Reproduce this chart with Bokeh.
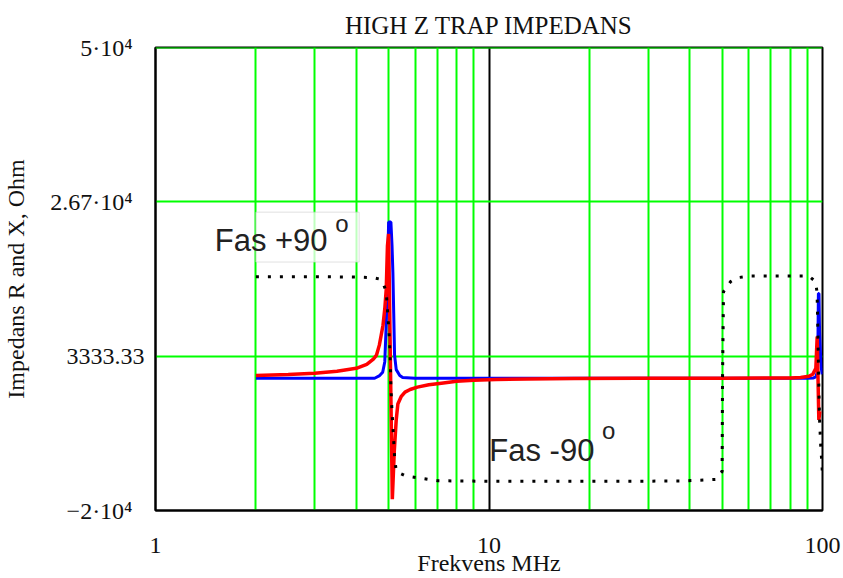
from bokeh.plotting import figure
from bokeh.models import Range1d, FixedTicker, Label, BoxAnnotation, Span
from bokeh.embed import file_html
from bokeh.resources import INLINE

# ---------------- data ----------------
x_ticks = [1, 10, 100]
x_tick_labels = ["1", "10", "100"]
x_minor = [2, 3, 4, 5, 6, 7, 8, 9, 20, 30, 40, 50, 60, 70, 80, 90]

y_ticks = [-20000, 3333.33, 26666.67, 50000]
y_tick_labels = ["\u22122\u00b710\u2074\u2007", "3333.33", "2.67\u00b710\u2074\u2007", "5\u00b710\u2074\u2007"]

# Blue: resistance R
f_R = [2.0, 3.0, 4.0, 4.54, 4.7, 4.8, 4.87, 4.92, 4.97, 5.0, 5.08, 5.12, 5.15, 5.18, 5.21,
       5.27, 5.4, 5.51, 6.0, 10.0, 30.0, 60.0, 90.0, 94.0, 95.5, 96.3, 96.8, 97.2, 97.6,
       98.0, 98.6, 99.2, 99.8]
R = [0, 0, 0, 0, 400, 900, 2500, 8300, 17000, 23600, 23600, 20000, 16000, 9800, 3500,
     1300, 400, 100, 0, 0, 0, 0, 0, 50, 200, 800, 3000, 12800, 12800,
     7000, 3800, 1500, 600]

# Red: reactance X
f_X = [2.0, 2.5, 3.0, 3.5, 4.0, 4.3, 4.5, 4.6, 4.69, 4.75, 4.81, 4.87, 4.92, 4.96, 5.0,
       5.13, 5.2, 5.27, 5.33, 5.45, 5.6, 5.8, 6.1, 6.6, 7.2, 8.0, 9.0, 10.5, 13.0, 18.0,
       28.0, 50.0, 80.0, 86.0, 91.0, 93.5, 95.5, 96.4, 97.5, 98.2]
X = [400, 550, 750, 1050, 1500, 2100, 2900, 3500, 5000, 6500, 8000, 10500, 13500, 20000, 21800,
     -18300, -11000, -6300, -3900, -2800, -2100, -1700, -1350, -1000, -750, -450, -300, -200, -120, -60,
     0, 0, 50, 100, 300, 600, 1500, 6300, -6300, -5000]

# Black dotted: phase (scaled)
f_ph = [2.0, 3.0, 4.0, 4.5, 4.69, 4.8, 4.92, 4.97, 5.03, 5.06, 5.08, 5.11, 5.15, 5.21, 5.27,
        5.64, 7.0, 10.0, 20.0, 37.6, 47.9, 50.0, 50.15, 50.5, 53.0, 55.5, 60.9, 70.0, 85.0,
        91.0, 95.3, 96.3, 96.8, 97.2, 97.6, 98.0, 98.8, 99.4, 99.9]
ph = [15350, 15350, 15300, 15200, 15000, 14500, 13100, 9800, 5800, 2300, -1250, -4300, -7300, -11800, -14100,
      -14800, -15500, -15580, -15580, -15550, -15300, -14100, 0, 13100, 14600, 15200, 15450, 15450, 15450,
      15450, 14600, 13000, 8000, 2500, -2500, -6300, -10300, -12300, -14300]

title_text = "HIGH Z TRAP IMPEDANS"
x_label = "Frekvens MHz"
y_label = "Impedans R and X, Ohm"

GREEN = "#00ff00"
SERIF = "Liberation Serif"
SANS = "Liberation Sans"

p = figure(width=843, height=578, x_axis_type="log",
           x_range=Range1d(1, 100), y_range=Range1d(-20000, 50000),
           output_backend="svg", toolbar_location=None,
           min_border_left=154, min_border_right=21, min_border_top=47, min_border_bottom=67,
           title=title_text)

p.title.text_font = SERIF
p.title.text_font_size = "25px"
p.title.text_font_style = "normal"
p.title.align = "center"
p.title.text_color = "#111111"
p.title.standoff = 18

p.outline_line_color = "black"
p.outline_line_width = 2
p.background_fill_color = "white"
p.border_fill_color = "white"

# axes
xt = FixedTicker(ticks=x_ticks, minor_ticks=x_minor)
p.xaxis.ticker = xt
p.xaxis.major_label_overrides = dict(zip(x_ticks, x_tick_labels))
yt = FixedTicker(ticks=y_ticks)
p.yaxis.ticker = yt
p.yaxis.major_label_overrides = dict(zip(y_ticks, y_tick_labels))

for ax in (p.xaxis[0], p.yaxis[0]):
    ax.major_tick_line_color = None
    ax.minor_tick_line_color = None
    ax.major_tick_out = 0
    ax.major_tick_in = 0
    ax.minor_tick_out = 0
    ax.minor_tick_in = 0
    ax.axis_line_color = "black"
    ax.axis_line_width = 2
    ax.major_label_text_font = SERIF
    ax.major_label_text_font_size = "24px"
    ax.major_label_text_color = "#111111"
    ax.axis_label_text_font = SERIF
    ax.axis_label_text_font_size = "24px"
    ax.axis_label_text_font_style = "normal"
    ax.axis_label_text_color = "#111111"

p.xaxis.axis_label = x_label
p.yaxis.axis_label = y_label
p.xaxis.major_label_standoff = 27
p.xaxis.axis_label_standoff = -6
p.yaxis.major_label_standoff = 11
p.yaxis.axis_label_standoff = 18

# grids
p.xgrid.ticker = xt
p.xgrid.grid_line_color = "black"
p.xgrid.grid_line_width = 2
p.xgrid.minor_grid_line_color = GREEN
p.xgrid.minor_grid_line_width = 2
p.ygrid.ticker = yt
p.ygrid.grid_line_color = GREEN
p.ygrid.grid_line_width = 2

# faint box behind the upper annotation
p.add_layout(BoxAnnotation(left=2.0, right=4.08, bottom=17564, top=25107,
                           fill_color="white", fill_alpha=0.75,
                           line_color="#cccccc", line_alpha=0.6, line_width=1))

# data lines
p.line(f_R, R, line_color="#0000ff", line_width=3)
p.line(f_X, X, line_color="#ff0000", line_width=3.5)
p.line(f_ph, ph, line_color="black", line_width=3, line_dash="3 9")

# top green line
p.add_layout(Span(location=50000, dimension="width", line_color=GREEN, line_width=2))

# annotations
p.add_layout(Label(x=1.505, y=20800, text="Fas +90", text_font=SANS, text_font_size="31px",
                   text_color="#222222", text_baseline="alphabetic"))
p.add_layout(Label(x=3.46, y=23400, text="o", text_font=SANS, text_font_size="24px",
                   text_color="#222222", text_baseline="alphabetic"))
p.add_layout(Label(x=10.02, y=-11000, text="Fas -90", text_font=SANS, text_font_size="31px",
                   text_color="#222222", text_baseline="alphabetic"))
p.add_layout(Label(x=21.8, y=-7900, text="o", text_font=SANS, text_font_size="24px",
                   text_color="#222222", text_baseline="alphabetic"))

open("out.html", "w").write(file_html(p, INLINE))
